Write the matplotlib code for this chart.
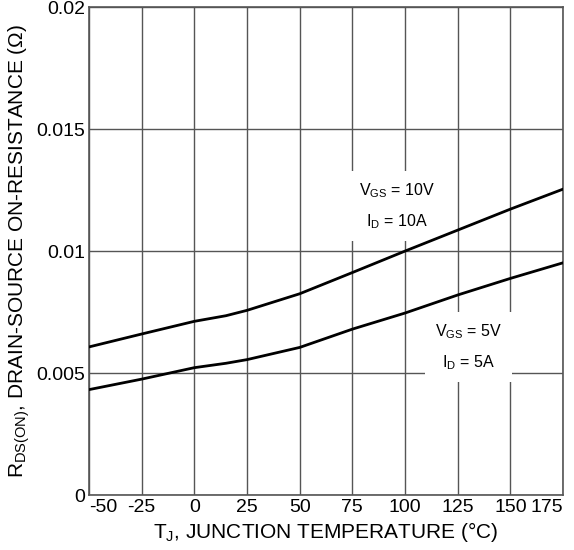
import matplotlib
matplotlib.use("Agg")
import matplotlib.pyplot as plt

plt.rcParams['font.family'] = ['Liberation Sans', 'DejaVu Sans']
plt.rcParams['mathtext.fontset'] = 'custom'
plt.rcParams['mathtext.rm'] = 'Liberation Sans'
plt.rcParams['axes.unicode_minus'] = False

# junction temperature (C) and on-resistance (ohm)
temp = [-50, -25, 0, 15, 25, 50, 75, 100, 125, 150, 175]
rds_10v = [0.00607, 0.00660, 0.00712, 0.00735, 0.00757, 0.00825, 0.00912, 0.01000, 0.01086, 0.01172, 0.01254]
rds_5v = [0.00432, 0.00475, 0.00522, 0.00540, 0.00555, 0.00605, 0.00680, 0.00746, 0.00820, 0.00888, 0.00952]

xticks = [-50, -25, 0, 25, 50, 75, 100, 125, 150, 175]
yticks = [0, 0.005, 0.01, 0.015, 0.02]
ytick_labels = ["0", "0.005", "0.01", "0.015", "0.02"]

fig = plt.figure(figsize=(5.74, 5.5), dpi=100)
ax = fig.add_axes([0.155, 0.1, 0.826, 0.887])

ax.plot(temp, rds_10v, color='black', lw=2, zorder=4)
ax.plot(temp, rds_5v, color='black', lw=2, zorder=4)

ax.set_xlim(-50, 175)
ax.set_ylim(0, 0.02)
ax.set_xticks(xticks)
ax.set_yticks(yticks)
ax.set_yticklabels(ytick_labels)
ax.tick_params(length=0, labelsize=14, pad=3)
xlabels = ax.get_xticklabels()
xlabels[0].set_horizontalalignment('left')
xlabels[-1].set_horizontalalignment('right')
ax.grid(True, color='#555555', lw=1)
ax.set_axisbelow(True)
for s in ax.spines.values():
    s.set_color('#555555')
    s.set_linewidth(1.2)

# annotation labels with white boxes that hide the grid
ax.text(96, 0.01184, "$\\mathregular{V_{GS}}$ = 10V\n$\\mathregular{I_D}$ = 10A",
        ha='center', va='center', fontsize=11.5, linespacing=1.9, zorder=3,
        bbox=dict(facecolor='white', edgecolor='none', pad=7))
ax.text(130, 0.00607, "$\\mathregular{V_{GS}}$ = 5V\n$\\mathregular{I_D}$ = 5A",
        ha='center', va='center', fontsize=11.5, linespacing=1.9, zorder=3,
        bbox=dict(facecolor='white', edgecolor='none', pad=7))

ax.set_xlabel("$\\mathregular{T_J}$, JUNCTION TEMPERATURE (°C)", fontsize=15, labelpad=3)
ax.set_ylabel("$\\mathregular{R_{DS(ON)}}$, DRAIN-SOURCE ON-RESISTANCE (Ω)", fontsize=15, labelpad=3)

fig.savefig("out.png", dpi=100)
